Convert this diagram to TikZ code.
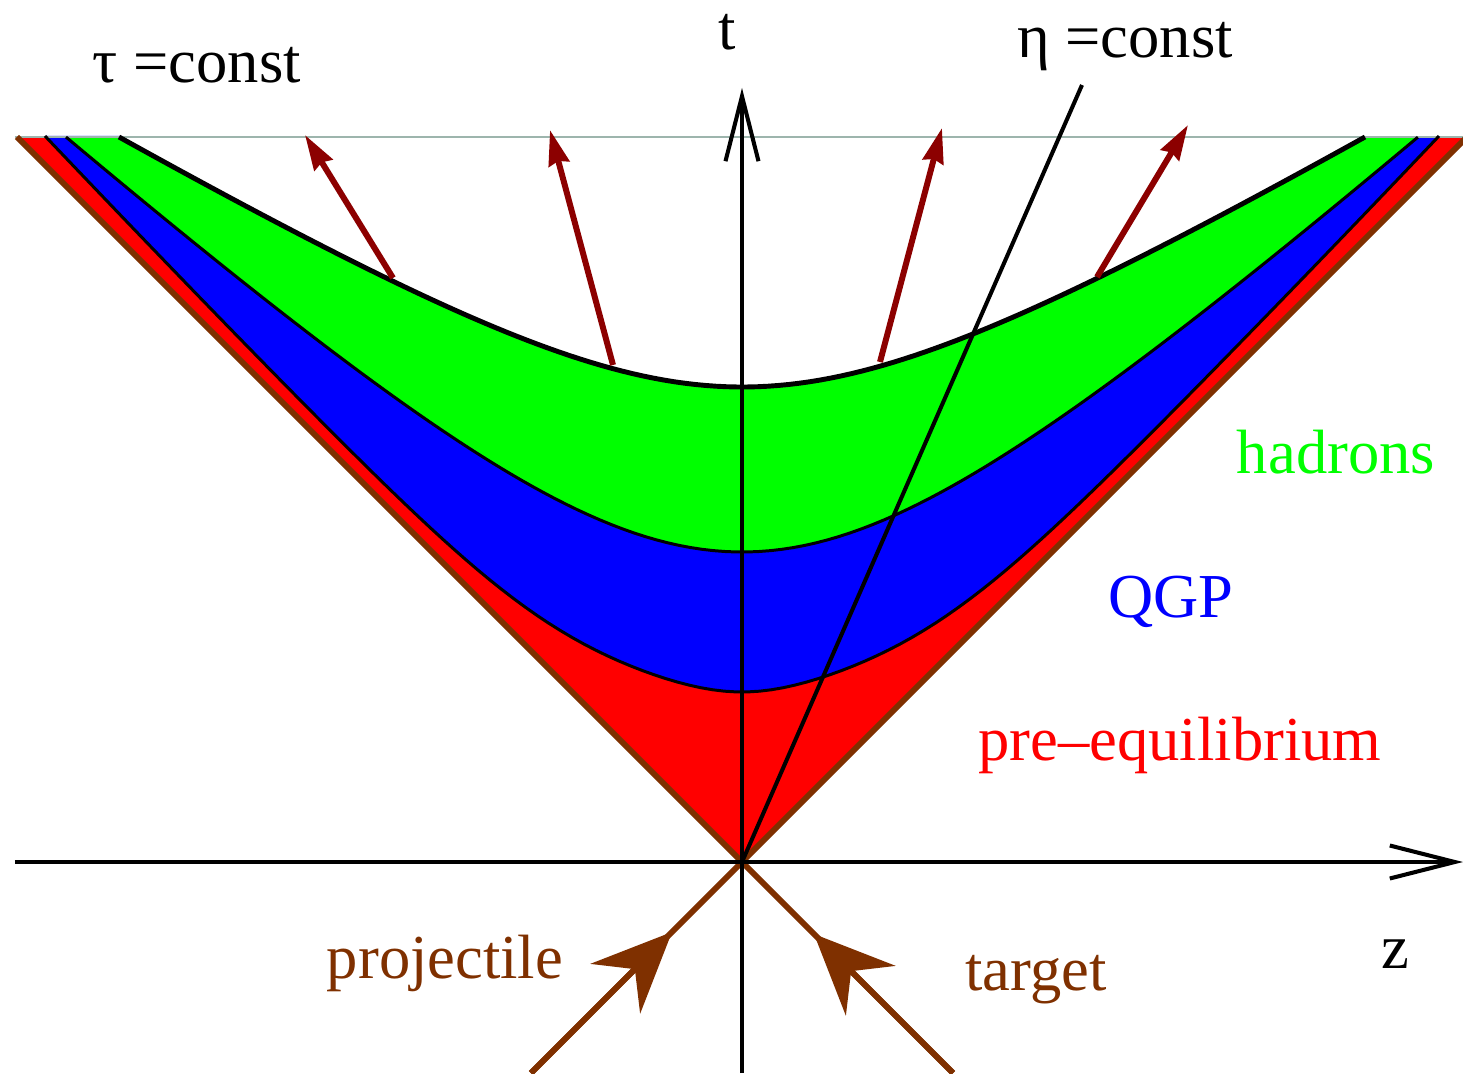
\documentclass[tikz,border=0pt]{standalone}
\usepackage{fontspec}
\setmainfont{Liberation Serif}
\usetikzlibrary{arrows.meta}
\definecolor{cred}{HTML}{FF0000}
\definecolor{cblue}{HTML}{0000FF}
\definecolor{cgreen}{HTML}{00FF00}
\definecolor{cbrown}{HTML}{7F3000}
\definecolor{cdarkred}{HTML}{8C0000}
\definecolor{cgrid}{HTML}{9DB5AD}
\tikzset{
  txt/.style={font=\fontsize{35.6}{41}\selectfont, inner sep=0pt, anchor=base},
  axisline/.style={draw=black, line width=2.3pt, -{Straight Barb[length=1.3cm, width=0.66cm]}},
  edgeline/.style={draw=black, line width=1.7pt},
  freezeout/.style={draw=black, line width=2.8pt},
  beam/.style={draw=cbrown, line width=3.4pt},
  beamtip/.style={-{Stealth[length=1.6cm, width=1.4cm, inset=0.55cm]}},
  flow/.style={draw=cdarkred, line width=3.4pt, -{Stealth[length=0.7cm, width=0.42cm, inset=0.06cm]}},
}
% curves in units of 100 px along z
\def\rbcurve{plot[domain=-6.97:6.97, samples=120] ({100*\x}, {100*sqrt(\x*\x+1) + 70*exp(-(\x/1.71)^2) + 0.45*\x*\x})}
\def\bgcurve{plot[domain=-6.76:6.76, samples=120] ({100*\x}, {310 + 90*(sqrt(2.65*2.65+\x*\x) - 2.65)})}
\def\focurve{plot[domain=-6.23:6.23, samples=120] ({100*\x}, {475 + 60*(sqrt(2.574*2.574+\x*\x) - 2.574)})}

\begin{document}
\begin{tikzpicture}[x=0.02cm, y=0.02cm]
  \useasboundingbox (-742,-211) rectangle (721,862);
  \coordinate (O) at (0,0);
  % regions inside the light cone
  \fill[cred] (-725,725) -- (O) -- (725,725) -- cycle;
  \fill[cblue] \rbcurve -- cycle;
  \fill[cgreen] \bgcurve -- cycle;
  \fill[white] \focurve -- cycle;
  \draw[cgrid, line width=0.6pt] (-727,725) -- (721,725);
  % boundaries between the stages
  \draw[edgeline] \rbcurve;
  \draw[edgeline] \bgcurve;
  \draw[freezeout] \focurve;
  % light cone, projectile and target
  \coordinate (pj) at (-70,-70);
  \coordinate (tg) at (72,-72);
  \draw[beam] (-211,-211) -- (725,725);
  \draw[beam] (211,-211) -- (-725,725);
  \draw[beam, beamtip] (-211,-211) -- (pj);
  \draw[beam, beamtip] (211,-211) -- (tg);
  % axes and eta line
  \draw[axisline] (-727,0) -- (721,0);
  \draw[axisline] (0,-211) -- (0,774);
  \draw[black, line width=2.3pt] (O) -- (340,777);
  % collective flow
  \draw[flow] (-349,584) -- (-437,727);
  \draw[flow] (-129,497) -- (-192,732);
  \draw[flow] (138,500) -- (200,734);
  \draw[flow] (355,585) -- (446,737);
  % labels
  \node[txt] (tau) at (-545,779) {τ =const};
  \node[txt] (eta) at (383,804) {η =const};
  \node[txt] (tlab) at (-15,812) {t};
  \node[txt] (zlab) at (653,-106) {z};
  \node[txt, text=cgreen] (had) at (594,389) {hadrons};
  \node[txt, text=cblue] (qgp) at (429,245) {QGP};
  \node[txt, text=cred] (pre) at (438,102) {pre--equilibrium};
  \node[txt, text=cbrown] (proj) at (-297,-116) {projectile};
  \node[txt, text=cbrown] (targ) at (294,-128) {target};
\end{tikzpicture}
\end{document}
